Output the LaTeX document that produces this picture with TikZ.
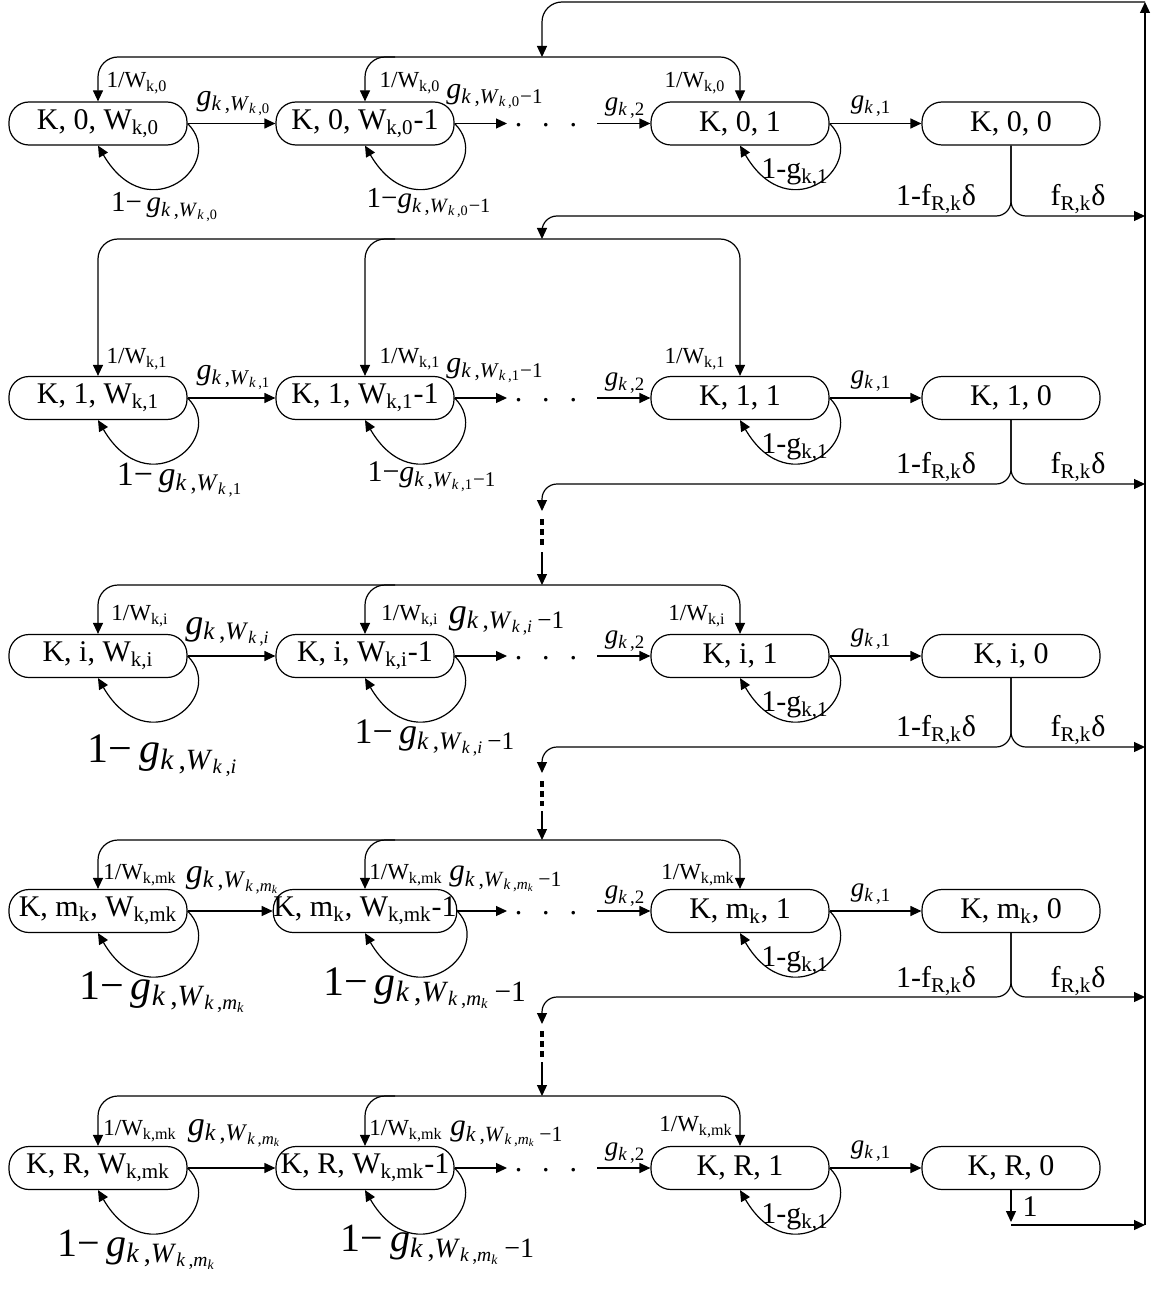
\documentclass[tikz,border=0pt]{standalone}
\usepackage{fontspec}
\setmainfont{Liberation Serif}
\usetikzlibrary{arrows.meta,calc}
\newcommand\ig{\textit{g}}
\newcommand\ik{\textit{k}}
\newcommand\iW{\textit{W}}
\newcommand\Sb[1]{\textsubscript{#1}}
\newcommand\fs[1]{\fontsize{#1}{#1}\selectfont}
\newcommand\gW[1]{\ig\Sb{\ik\,,\iW\Sb{\ik\,,#1}}}
\newcommand\gWm[1]{\ig\Sb{\ik\,,\iW\Sb{\ik\,,#1}−1}}
\newcommand\gWmk{\ig\Sb{\ik\,,\iW\Sb{\ik\,,\textit{m}\Sb{\ik}}}}
\newcommand\gWmkm{\ig\Sb{\ik\,,\iW\Sb{\ik\,,\textit{m}\Sb{\ik}}\,−1}}
\begin{document}
\begin{tikzpicture}[x=0.5pt,y=-0.5pt,
  >={Triangle[length=5.5pt,width=5pt]},
  line width=0.6pt,
  every node/.style={inner sep=0pt},
  state/.style={draw, rounded corners=10pt, minimum width=89pt, minimum height=21.5pt, font=\fs{15}},
  lbl/.style={font=\fs{#1}},
  wl/.style={font=\fs{11.5}},
  dotsn/.style={font=\fs{15}, text height=1.5pt, text depth=0pt},
  loopr/.style={->},
  feed/.style={->, rounded corners=10pt},
  branch/.style={->, rounded corners=7.5pt},
  dotseg/.style={line width=1.8pt, dash pattern=on 3pt off 2pt}
]
\useasboundingbox (0,0) rectangle (1156,1289);
\newcommand\selfloop[1]{\draw[loopr] (#1.east) .. controls ($(#1.center)+(130,40)$) and ($(#1.center)+(50,108)$) .. (#1.south);}

% ---------- frame on the right and top ----------
\coordinate (TR) at (1145,2);
\coordinate (BR) at (1145,1225);
\draw[->] (BR) -- (TR);
\coordinate (T0) at (542,57);
\draw[feed] (TR) -- (542,2) -- (T0);

% ---------- Row 0 ----------
\node[state] (A0) at (98,123.5) {K, 0, W\Sb{k,0}};
\node[state] (B0) at (365,123.5) {K, 0, W\Sb{k,0}-1};
\node[state] (C0) at (740,123.5) {K, 0, 1};
\node[state] (D0) at (1011,123.5) {K, 0, 0};
\node[dotsn] (t0) at (546,125) {.\hspace{10pt}.\hspace{10pt}.};
\coordinate (e0) at (507,123.5); \coordinate (s0) at (597,123.5);
\draw[->] (A0) -- (B0); \draw[->] (B0) -- (e0); \draw[->] (s0) -- (C0); \draw[->] (C0) -- (D0);
\selfloop{A0} \selfloop{B0} \selfloop{C0}
\coordinate (L0) at (0,57);
\draw[<->, rounded corners=10pt] (A0.north) -- (A0.north |- L0) -- (C0.north |- L0) -- (C0.north);
\draw[->, rounded corners=10pt] ($(B0.north |- L0)+(30,0)$) -- (B0.north |- L0) -- (B0.north);
\node[wl] (wa0) at (137,83) {1/W\Sb{k,0}};
\node[wl] (wb0) at (410,83) {1/W\Sb{k,0}};
\node[wl] (wc0) at (695,83) {1/W\Sb{k,0}};
\node[lbl=15] (ga0) at (234,104) {\gW{0}};
\node[lbl=15] (gb0) at (495,97) {\gWm{0}};
\node[lbl=13.5] (gc0) at (625,108) {\ig\Sb{\ik\,,2}};
\node[lbl=13.5] (gd0) at (871,106) {\ig\Sb{\ik\,,1}};
\node[lbl=14.5] (la0) at (165,207) {1−\,\gW{0}};
\node[lbl=14.5] (lb0) at (429,203) {1−\gWm{0}};
\node[lbl=15] (lc0) at (795,173) {1-g\Sb{k,1}};
\node[lbl=15] (f0a) at (936,199) {1-f\Sb{R,k}δ};
\node[lbl=15] (f0b) at (1078,199) {f\Sb{R,k}δ};
\coordinate (F0) at (0,216);
\coordinate (R0) at (1145,216);
\draw[branch] (D0.south) -- (D0.south |- F0) -- (R0);
\coordinate (T1) at (542,239);
\draw[branch] (D0.south) -- (D0.south |- F0) -- (542,216) -- (T1);

% ---------- Row 1 ----------
\node[state] (A1) at (98,398) {K, 1, W\Sb{k,1}};
\node[state] (B1) at (365,398) {K, 1, W\Sb{k,1}-1};
\node[state] (C1) at (740,398) {K, 1, 1};
\node[state] (D1) at (1011,398) {K, 1, 0};
\node[dotsn] (t1) at (546,399.5) {.\hspace{10pt}.\hspace{10pt}.};
\coordinate (e1) at (507,398); \coordinate (s1) at (597,398);
\draw[->] (A1) -- (B1); \draw[->] (B1) -- (e1); \draw[->] (s1) -- (C1); \draw[->] (C1) -- (D1);
\selfloop{A1} \selfloop{B1} \selfloop{C1}
\draw[<->, rounded corners=10pt] (A1.north) -- (A1.north |- T1) -- (C1.north |- T1) -- (C1.north);
\draw[->, rounded corners=10pt] ($(B1.north |- T1)+(30,0)$) -- (B1.north |- T1) -- (B1.north);
\node[wl] (wa1) at (137,359) {1/W\Sb{k,1}};
\node[wl] (wb1) at (410,359) {1/W\Sb{k,1}};
\node[wl] (wc1) at (695,359) {1/W\Sb{k,1}};
\node[lbl=15] (ga1) at (234,378) {\gW{1}};
\node[lbl=15] (gb1) at (495,371) {\gWm{1}};
\node[lbl=13.5] (gc1) at (625,383) {\ig\Sb{\ik\,,2}};
\node[lbl=13.5] (gd1) at (871,381) {\ig\Sb{\ik\,,1}};
\node[lbl=17] (la1) at (180,480) {1−\,\gW{1}};
\node[lbl=15] (lb1) at (432,477) {1−\gWm{1}};
\node[lbl=15] (lc1) at (795,448) {1-g\Sb{k,1}};
\node[lbl=15] (f1a) at (936,467) {1-f\Sb{R,k}δ};
\node[lbl=15] (f1b) at (1078,467) {f\Sb{R,k}δ};
\coordinate (F1) at (0,484);
\coordinate (R1) at (1145,484);
\draw[branch] (D1.south) -- (D1.south |- F1) -- (R1);
\coordinate (m1a) at (542,511);
\draw[branch] (D1.south) -- (D1.south |- F1) -- (542,484) -- (m1a);
\coordinate (m1b) at (542,519); \coordinate (m1c) at (542,546); \coordinate (m1d) at (542,552);
\draw[dotseg] (m1b) -- (m1c);
\coordinate (T2) at (542,585);
\draw[->] (m1d) -- (T2);

% ---------- Row 2 ----------
\node[state] (A2) at (98,656) {K, i, W\Sb{k,i}};
\node[state] (B2) at (365,656) {K, i, W\Sb{k,i}-1};
\node[state] (C2) at (740,656) {K, i, 1};
\node[state] (D2) at (1011,656) {K, i, 0};
\node[dotsn] (t2) at (546,657.5) {.\hspace{10pt}.\hspace{10pt}.};
\coordinate (e2) at (507,656); \coordinate (s2) at (597,656);
\draw[->] (A2) -- (B2); \draw[->] (B2) -- (e2); \draw[->] (s2) -- (C2); \draw[->] (C2) -- (D2);
\selfloop{A2} \selfloop{B2} \selfloop{C2}
\draw[<->, rounded corners=10pt] (A2.north) -- (A2.north |- T2) -- (C2.north |- T2) -- (C2.north);
\draw[->, rounded corners=10pt] ($(B2.north |- T2)+(30,0)$) -- (B2.north |- T2) -- (B2.north);
\node[wl] (wa2) at (140,616) {1/W\Sb{k,i}};
\node[wl] (wb2) at (410,616) {1/W\Sb{k,i}};
\node[wl] (wc2) at (697,616) {1/W\Sb{k,i}};
\node[lbl=18] (ga2) at (228,632) {\ig\Sb{\ik\,,\iW\Sb{\ik\,,\textit{i}}}};
\node[lbl=18] (gb2) at (507,621) {\ig\Sb{\ik\,,\iW\Sb{\ik\,,\textit{i}}\,−1}};
\node[lbl=13.5] (gc2) at (625,641) {\ig\Sb{\ik\,,2}};
\node[lbl=13.5] (gd2) at (871,639) {\ig\Sb{\ik\,,1}};
\node[lbl=21] (la2) at (163,756) {1−\,\ig\Sb{\ik\,,\iW\Sb{\ik\,,\textit{i}}}};
\node[lbl=18] (lb2) at (435,738) {1−\,\ig\Sb{\ik\,,\iW\Sb{\ik\,,\textit{i}}\,−1}};
\node[lbl=15] (lc2) at (795,706) {1-g\Sb{k,1}};
\node[lbl=15] (f2a) at (936,730) {1-f\Sb{R,k}δ};
\node[lbl=15] (f2b) at (1078,730) {f\Sb{R,k}δ};
\coordinate (F2) at (0,747);
\coordinate (R2) at (1145,747);
\draw[branch] (D2.south) -- (D2.south |- F2) -- (R2);
\coordinate (m2a) at (542,773);
\draw[branch] (D2.south) -- (D2.south |- F2) -- (542,747) -- (m2a);
\coordinate (m2b) at (542,781); \coordinate (m2c) at (542,806); \coordinate (m2d) at (542,811);
\draw[dotseg] (m2b) -- (m2c);
\coordinate (T3) at (542,840);
\draw[->] (m2d) -- (T3);

% ---------- Row 3 ----------
\node[state] (A3) at (98,911) {K, m\Sb{k}, W\Sb{k,mk}};
\node[state] (B3) at (365,911) {K, m\Sb{k}, W\Sb{k,mk}-1};
\node[state] (C3) at (740,911) {K, m\Sb{k}, 1};
\node[state] (D3) at (1011,911) {K, m\Sb{k}, 0};
\node[dotsn] (t3) at (546,912.5) {.\hspace{10pt}.\hspace{10pt}.};
\coordinate (e3) at (507,911); \coordinate (s3) at (597,911);
\draw[->] (A3) -- (B3); \draw[->] (B3) -- (e3); \draw[->] (s3) -- (C3); \draw[->] (C3) -- (D3);
\selfloop{A3} \selfloop{B3} \selfloop{C3}
\draw[<->, rounded corners=10pt] (A3.north) -- (A3.north |- T3) -- (C3.north |- T3) -- (C3.north);
\draw[->, rounded corners=10pt] ($(B3.north |- T3)+(30,0)$) -- (B3.north |- T3) -- (B3.north);
\node[wl] (wa3) at (140,875) {1/W\Sb{k,mk}};
\node[wl] (wb3) at (406,875) {1/W\Sb{k,mk}};
\node[wl] (wc3) at (698,875) {1/W\Sb{k,mk}};
\node[lbl=17] (ga3) at (233,880) {\gWmk};
\node[lbl=15.5] (gb3) at (506,879) {\gWmkm};
\node[lbl=13.5] (gc3) at (625,896) {\ig\Sb{\ik\,,2}};
\node[lbl=13.5] (gd3) at (871,894) {\ig\Sb{\ik\,,1}};
\node[lbl=21] (la3) at (163,992) {1−\,\gWmk};
\node[lbl=21] (lb3) at (425,988) {1−\,\gWmkm};
\node[lbl=15] (lc3) at (795,961) {1-g\Sb{k,1}};
\node[lbl=15] (f3a) at (936,981) {1-f\Sb{R,k}δ};
\node[lbl=15] (f3b) at (1078,981) {f\Sb{R,k}δ};
\coordinate (F3) at (0,997);
\coordinate (R3) at (1145,997);
\draw[branch] (D3.south) -- (D3.south |- F3) -- (R3);
\coordinate (m3a) at (542,1024);
\draw[branch] (D3.south) -- (D3.south |- F3) -- (542,997) -- (m3a);
\coordinate (m3b) at (542,1031); \coordinate (m3c) at (542,1057); \coordinate (m3d) at (542,1062);
\draw[dotseg] (m3b) -- (m3c);
\coordinate (T4) at (542,1096);
\draw[->] (m3d) -- (T4);

% ---------- Row 4 ----------
\node[state] (A4) at (98,1168) {K, R, W\Sb{k,mk}};
\node[state] (B4) at (365,1168) {K, R, W\Sb{k,mk}-1};
\node[state] (C4) at (740,1168) {K, R, 1};
\node[state] (D4) at (1011,1168) {K, R, 0};
\node[dotsn] (t4) at (546,1169.5) {.\hspace{10pt}.\hspace{10pt}.};
\coordinate (e4) at (507,1168); \coordinate (s4) at (597,1168);
\draw[->] (A4) -- (B4); \draw[->] (B4) -- (e4); \draw[->] (s4) -- (C4); \draw[->] (C4) -- (D4);
\selfloop{A4} \selfloop{B4} \selfloop{C4}
\draw[<->, rounded corners=10pt] (A4.north) -- (A4.north |- T4) -- (C4.north |- T4) -- (C4.north);
\draw[->, rounded corners=10pt] ($(B4.north |- T4)+(30,0)$) -- (B4.north |- T4) -- (B4.north);
\node[wl] (wa4) at (140,1131) {1/W\Sb{k,mk}};
\node[wl] (wb4) at (406,1131) {1/W\Sb{k,mk}};
\node[wl] (wc4) at (696,1127) {1/W\Sb{k,mk}};
\node[lbl=17] (ga4) at (235,1133) {\gWmk};
\node[lbl=15.5] (gb4) at (507,1134) {\gWmkm};
\node[lbl=13.5] (gc4) at (625,1153) {\ig\Sb{\ik\,,2}};
\node[lbl=13.5] (gd4) at (871,1151) {\ig\Sb{\ik\,,1}};
\node[lbl=20] (la4) at (137,1250) {1−\,\gWmk};
\node[lbl=20] (lb4) at (438,1245) {1−\,\gWmkm};
\node[lbl=15] (lc4) at (795,1218) {1-g\Sb{k,1}};
\coordinate (b1) at (1011,1222);
\draw[->] (D4.south) -- (b1);
\coordinate (b2) at (1011,1225);
\draw[->] (b2) -- (BR);
\node[lbl=15] (one) at (1030,1207) {1};
\end{tikzpicture}
\end{document}
